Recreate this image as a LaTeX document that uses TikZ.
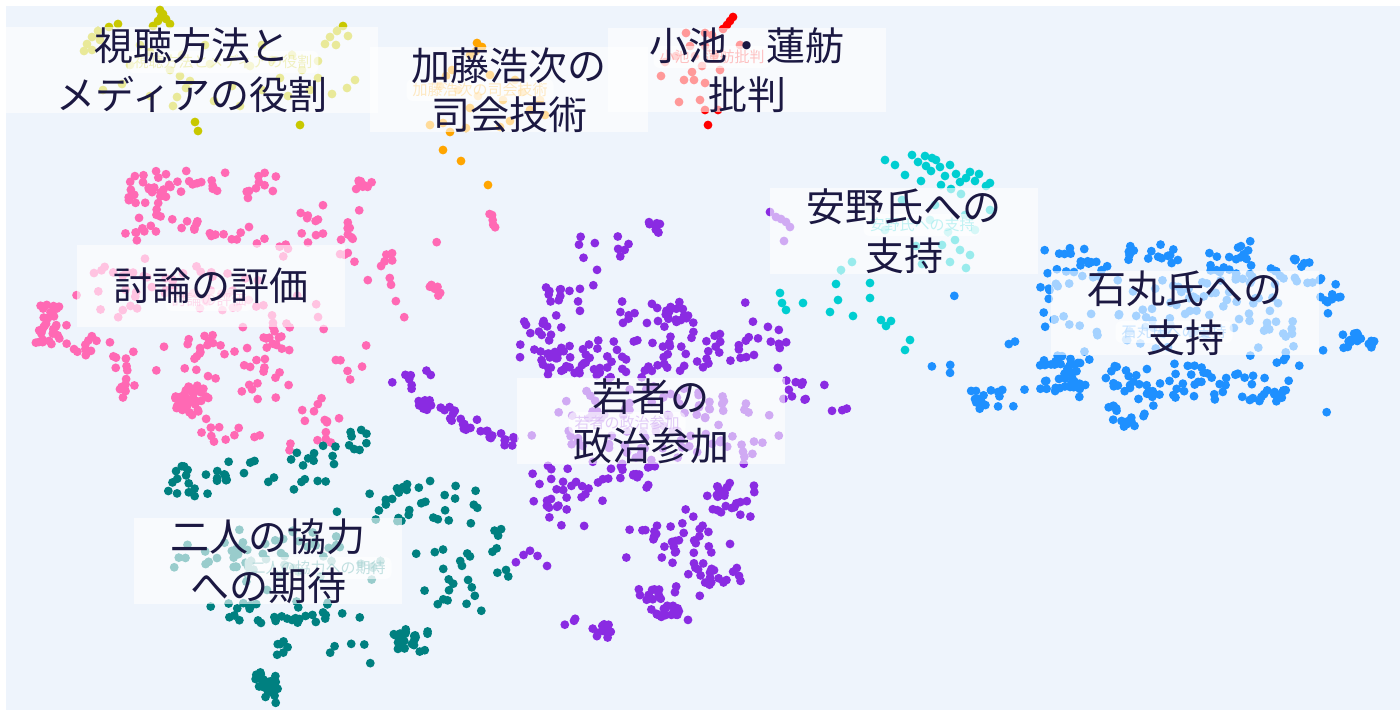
\documentclass[tikz,border=0pt]{standalone}
\usepackage{fontspec}
\newfontfamily\jp{Noto Sans CJK JP}
\definecolor{bgc}{HTML}{EEF4FC}
\definecolor{ink}{HTML}{1B1842}
\definecolor{cyel}{RGB}{200,200,0}
\definecolor{cora}{RGB}{255,165,0}
\definecolor{cred}{RGB}{255,0,0}
\definecolor{cpnk}{RGB}{255,105,180}
\definecolor{cteal}{RGB}{0,128,128}
\definecolor{cpur}{RGB}{138,43,226}
\definecolor{ccyan}{RGB}{0,206,209}
\definecolor{cblue}{RGB}{30,144,255}
\newcommand\myblob[6]{%
  \foreach \k in {1,...,#6}{%
    \pgfmathsetmacro\bx{#2+#4*(0.75*rand+0.25*rand)}%
    \pgfmathsetmacro\by{#3+#5*(0.75*rand+0.25*rand)}%
    \fill[#1] (\bx,\by) circle[radius=2.2pt];%
  }}
\tikzset{
  dot/.style={radius=2.2pt},
  bigbox/.style={fill=white, fill opacity=0.6, text opacity=1, text=ink, align=center,
    inner xsep=18pt, inner ysep=0pt, minimum width=134pt, minimum height=41pt,
    font=\jp\fontsize{19.5pt}{24.5pt}\selectfont},
  smalllab/.style={fill=white, fill opacity=0.6, text opacity=0.6, rounded corners=3pt,
    inner xsep=3pt, inner ysep=2pt, font=\jp\fontsize{7.5pt}{9pt}\selectfont},
}
\begin{document}
\begin{tikzpicture}[x=0.5pt,y=-0.5pt]
\useasboundingbox (0,0) rectangle (1400,710);
\fill[white] (0,0) rectangle (1400,710);
\fill[bgc] (6,6) rectangle (1400,710);
\pgfmathsetseed{4242}
% explicit small clusters
\foreach \p in {(160,10),(163,14),(166,19),(158,21),(170,24),(153,26),(161,17),(118,24),(109,27),(98,31),(92,37),(87,44),(84,51),(92,50),(100,40),(343,26),(337,31),(330,37),(325,44),(348,36),(336,45),(355,80),(347,88),(332,94),(300,125),(195,122),(198,131),(173,106),(177,97),(186,88),(180,76),(190,81),(140,45),(150,52),(182,55),(210,64),(250,66),(272,60),(292,55),(302,70),(318,61),(232,86),(262,90),(288,96),(310,90),(122,84),(103,90),(150,96),(214,101),(240,106),(170,70),(130,65),(205,45),(280,78),(318,78),(262,45)}
  \fill[cyel] \p circle[dot];
\foreach \p in {(477,43),(482,47),(476,51),(470,55),(452,70),(446,76),(440,86),(458,90),(478,96),(503,100),(522,92),(530,110),(443,123),(450,132),(430,125),(500,127),(510,121),(466,128),(443,150),(461,161),(488,185),(490,75),(470,108),(515,80),(545,115),(540,100)}
  \fill[cora] \p circle[dot];
\foreach \p in {(733,17),(730,21),(727,25),(723,29),(712,35),(686,33),(705,33),(690,46),(705,46),(695,56),(702,66),(676,56),(665,62),(684,80),(694,80),(705,83),(692,72),(679,102),(700,100),(705,110),(718,110),(708,125),(661,76),(715,55),(720,70),(740,45)}
  \fill[cred] \p circle[dot];
\foreach \p in {(885,160),(912,155),(918,162),(926,166),(936,160),(931,171),(945,176),(956,174),(966,178),(975,181),(986,186),(941,185),(921,181),(951,189),(961,194),(979,174),(925,156),(932,158),(940,167),(950,165),(970,172),(990,183),(960,182),(905,175),(895,165),(902,200),(930,220),(948,232),(960,250),(942,245),(922,264),(950,262),(966,268),(916,246),(885,230),(935,205),(965,215),(975,230),(990,210),(970,255),(955,240),(836,284),(838,300),(870,298),(881,320),(886,326),(891,321),(905,350),(910,340),(830,312),(803,303),(780,293),(782,303),(786,310),(841,270),(852,262),(870,283),(853,316)}
  \fill[ccyan] \p circle[dot];
\foreach \p in {(770,212),(776,217),(781,219),(786,222),(790,227),(784,241)}
  \fill[cpur] \p circle[dot];
% large clusters
\foreach \c/\x/\y/\rx/\ry/\n in {
 cpnk/150/185/35/18/22, cpnk/205/182/40/14/12, cpnk/255/188/28/18/10, cpnk/145/220/25/22/14,
 cpnk/212/228/40/14/12, cpnk/48/325/14/22/32, cpnk/95/345/35/14/14, cpnk/180/292/95/30/45,
 cpnk/130/372/18/30/12, cpnk/190/402/22/20/36, cpnk/208/352/25/22/16, cpnk/262/372/32/40/18,
 cpnk/282/330/28/18/12, cpnk/322/412/22/25/10, cpnk/235/432/40/10/10, cpnk/362/183/14/10/8,
 cpnk/348/232/18/40/10, cpnk/310/212/14/14/6, cpnk/385/282/22/40/10, cpnk/433/290/10/8/6,
 cpnk/492/218/8/12/5, cpnk/440/243/6/6/1, cpnk/355/362/15/20/5, cpnk/305/445/30/8/5,
 cpnk/290/240/35/12/8, cpnk/220/300/170/120/30,
 cteal/185/482/25/20/14, cteal/232/470/30/18/12, cteal/300/465/40/30/14, cteal/350/440/18/14/8,
 cteal/398/502/40/25/18, cteal/452/510/35/25/12, cteal/270/560/110/32/50, cteal/258/612/55/14/20,
 cteal/322/610/40/14/10, cteal/410/640/22/14/22, cteal/458/585/28/40/14, cteal/500/560/18/40/8,
 cteal/266/682/12/14/22, cteal/350/650/30/14/5, cteal/282/652/10/14/6, cteal/270/700/6/6/3,
 cteal/340/560/170/110/22,
 cpur/655/225/14/9/8, cpur/600/252/40/25/10, cpur/565/292/30/14/12, cpur/650/312/50/14/22,
 cpur/540/342/30/28/22, cpur/560/362/30/20/18, cpur/622/360/50/30/28, cpur/700/352/50/40/28,
 cpur/762/342/40/30/15, cpur/425/405/12/8/8, cpur/448/414/12/8/8, cpur/470/424/12/8/8,
 cpur/492/433/12/8/8, cpur/510/442/10/6/6, cpur/408/382/25/15/8, cpur/652/422/130/40/80,
 cpur/800/392/30/25/10, cpur/840/410/10/5/3, cpur/562/492/40/40/28, cpur/620/470/40/20/18,
 cpur/730/500/30/22/22, cpur/662/540/40/25/22, cpur/702/552/30/35/15, cpur/662/602/28/22/30,
 cpur/602/632/14/10/10, cpur/722/582/25/25/15, cpur/532/560/20/14/5, cpur/570/622/8/8/3,
 cpur/745/465/15/15/4, cpur/630/400/170/160/28,
 cblue/1075/262/40/20/20, cblue/1150/252/40/14/15, cblue/1230/258/30/25/22, cblue/1292/272/30/20/15,
 cblue/1332/292/14/14/10, cblue/1360/340/20/12/18, cblue/1050/302/18/30/10, cblue/1185/312/130/40/70,
 cblue/1062/376/30/28/40, cblue/1132/392/35/28/28, cblue/1192/382/35/28/20, cblue/1240/392/30/28/15,
 cblue/1275/392/14/8/10, cblue/990/402/30/14/15, cblue/1130/420/20/8/10, cblue/945/372/18/14/3,
 cblue/1285/342/14/25/8, cblue/1150/330/220/90/28}
 {\myblob{\c}{\x}{\y}{\rx}{\ry}{\n}}
% small faint labels
\node[smalllab, text=cyel] (s1) at (223,62) {視聴方法とメディアの役割};
\node[smalllab, text=cora] (s2) at (480,90) {加藤浩次の司会技術};
\node[smalllab, text=cred] (s3) at (712,57) {小池・蓮舫批判};
\node[smalllab, text=ccyan] (s4) at (922,225) {安野氏への支持};
\node[smalllab, text=cblue] (s5) at (1174,332) {石丸氏への支持};
\node[smalllab, text=cpnk] (s6) at (209,300) {討論の評価};
\node[smalllab, text=cpur] (s7) at (627,423) {若者の政治参加};
\node[smalllab, text=cteal] (s8) at (318,568) {二人の協力への期待};
% big labels
\node[bigbox, minimum width=186pt] (b1) at (192,70) {視聴方法と\\メディアの役割};
\node[bigbox, minimum width=139pt] (b2) at (509,90) {加藤浩次の\\司会技術};
\node[bigbox, minimum width=139pt] (b3) at (747,70) {小池・蓮舫\\批判};
\node[bigbox] (b4) at (904,231) {安野氏への\\支持};
\node[bigbox] (b5) at (1185,313) {石丸氏への\\支持};
\node[bigbox] (b6) at (211,286) {討論の評価};
\node[bigbox] (b7) at (651,421) {若者の\\政治参加};
\node[bigbox] (b8) at (268,561) {二人の協力\\への期待};
\end{tikzpicture}
\end{document}
